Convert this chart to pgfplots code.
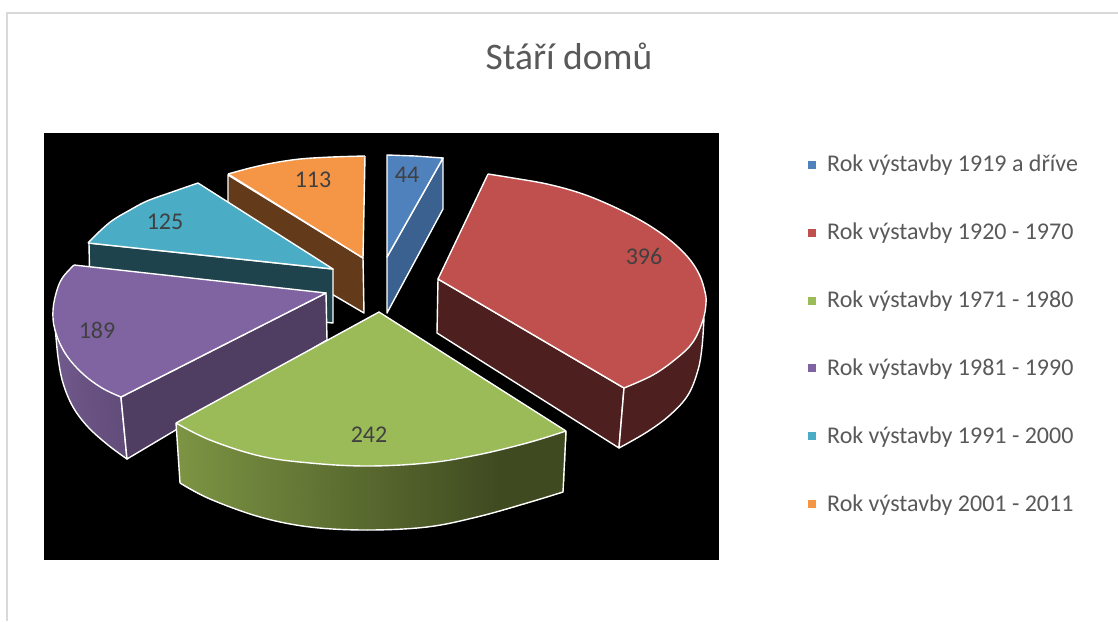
\documentclass[border=0pt]{standalone}
\usepackage{pgfplots}
\pgfplotsset{compat=1.18}
\usepackage{fontspec}
\setmainfont{Carlito}
\definecolor{cblue}{RGB}{79,129,189}
\definecolor{cblued}{RGB}{58,97,144}
\definecolor{cred}{RGB}{192,80,77}
\definecolor{credd}{RGB}{77,31,30}
\definecolor{cgreen}{RGB}{155,187,89}
\definecolor{cpurple}{RGB}{128,100,162}
\definecolor{cpurpled}{RGB}{79,61,98}
\definecolor{cteal}{RGB}{75,172,198}
\definecolor{cteald}{RGB}{30,67,77}
\definecolor{corange}{RGB}{245,150,70}
\definecolor{corangedd}{RGB}{99,58,26}
\definecolor{txt}{RGB}{64,64,64}
\definecolor{ltxt}{RGB}{89,89,89}
\pgfplotsset{
  colormap={gside}{rgb255=(124,148,67) rgb255=(63,74,32)},
  colormap={pside}{rgb255=(113,90,140) rgb255=(98,76,122)},
  wedge/.style={draw=white,line width=1.4pt,line join=round,forget plot,mark=none},
  body/.style={draw=none,forget plot,mark=none},
  edge/.style={draw=white,line width=1.4pt,line join=round,forget plot,mark=none,fill=none},
  arc/.style={edge,smooth,tension=0.6},
}
\begin{document}
\begin{tikzpicture}
\path[use as bounding box] (0,0) rectangle (1118pt,621pt);
\begin{axis}[
  at={(0,0)},anchor=south west,
  width=1118pt,height=621pt,scale only axis,
  xmin=0,xmax=1118,ymin=0,ymax=621,y dir=reverse,
  hide axis,
  point meta min=0,point meta max=1,
  legend style={draw=none,fill=none,at={(805/1118,1-151/621)},anchor=north west,
    font=\fontsize{24}{28}\selectfont,text=ltxt,row sep=45.8pt,
    /tikz/every odd column/.style={column sep=10pt}},
  legend cell align=left,
]
% frame
\addplot[draw=black!15,line width=2pt,forget plot,mark=none] coordinates {(7,621) (7,13) (1118,13)};
% plot background
\addplot[fill=black,draw=none,forget plot,mark=none] coordinates {(44,133) (719,133) (719,560) (44,560)} --cycle;

% orange
\addplot[wedge,fill=corangedd] coordinates {(228,175) (363,258) (364,313) (228,233)} --cycle;
\addplot[body,fill=corange] coordinates {(228,174) (250,168) (273,163) (300,159) (332,157) (365,156) (363,258)} --cycle;
\addplot[edge] coordinates {(228,174) (363,258) (365,156)};
\addplot[arc] coordinates {(228,174) (250,168) (273,163) (300,159) (332,157) (365,156)};
% teal
\addplot[wedge,fill=cteald] coordinates {(89,243) (333,269) (333,323) (90,298)} --cycle;
\addplot[body,fill=cteal] coordinates {(88,243) (100,231) (113,220) (130,210) (147,201) (172,192) (198,183) (333,269)} --cycle;
\addplot[edge] coordinates {(88,243) (333,269) (198,183)};
\addplot[arc] coordinates {(88,243) (100,231) (113,220) (130,210) (147,201) (172,192) (198,183)};
% purple
\addplot[surf,shader=interp,colormap name=pside,forget plot,point meta=explicit,mesh/rows=2]
 table[meta=c] {
x y c
55 330 0
58 340 0.05
65 353 0.1
73 364 0.3
82 373 0.5
102 388 0.75
121 397 1

55 330 0
58 357 0.05
63 383 0.1
73 407 0.3
88 427 0.5
108 445 0.75
127 459 1
};
\addplot[arc] coordinates {(55,325) (58,357) (63,383) (73,407) (88,427) (108,445) (127,459)};
\addplot[edge] coordinates {(127,459) (121,397)};
\addplot[wedge,fill=cpurpled] coordinates {(326,293) (327,340) (127,459) (121,397)} --cycle;
\addplot[body,fill=cpurple] coordinates {(74,265) (63,277) (57,290) (53,310) (55,330) (65,353) (82,373) (102,388) (121,397) (326,293)} --cycle;
\addplot[edge] coordinates {(121,397) (326,293) (74,265)};
\addplot[arc] coordinates {(74,265) (63,277) (57,290) (53,310) (55,330) (65,353) (82,373) (102,388) (121,397)};
% green
\addplot[surf,shader=interp,colormap name=gside,forget plot,point meta=explicit,mesh/rows=2]
 table[meta=c] {
x y c
176 423 0
193 432 0.05
210 440 0.10
235 449 0.18
260 456 0.26
285 460 0.33
310 463 0.41
338 465 0.50
367 466 0.59
397 465 0.68
427 463 0.77
452 459 0.85
477 455 0.93
500 450 1
527 443 1
566 431 1

180 483 0
195 492 0.05
210 499 0.10
235 509 0.18
260 517 0.26
285 523 0.33
310 527 0.41
338 529 0.50
367 530 0.59
397 529 0.68
427 527 0.77
452 522 0.85
477 517 0.93
500 511 1
527 503 1
563 492 1
};
\addplot[edge] coordinates {(176,423) (180,483)};
\addplot[edge] coordinates {(563,492) (566,431)};
\addplot[arc] coordinates {(180,483) (210,499) (260,517) (310,527) (367,530) (427,527) (477,517) (527,503) (563,492)};
\addplot[body,fill=cgreen] coordinates {(379,312) (176,423) (193,432) (210,440) (235,449) (260,456) (285,460) (310,463) (338,465) (367,466) (397,465) (427,463) (452,459) (477,455) (500,450) (527,443) (566,431)} --cycle;
\addplot[edge] coordinates {(176,423) (379,312) (566,431)};
\addplot[arc] coordinates {(176,423) (210,440) (260,456) (310,463) (367,466) (427,463) (477,455) (527,443) (566,431)};
% blue
\addplot[wedge,fill=cblued] coordinates {(443,158) (443,209) (387,313) (387,257)} --cycle;
\addplot[wedge,fill=cblue] coordinates {(387,155) (415,156) (443,158) (387,257)} --cycle;
% red
\addplot[wedge,fill=credd] coordinates {(438,279) (624,388) (619,448) (437,333)} --cycle;
\addplot[body,fill=credd] coordinates {(706,303) (703,320) (693,342) (677,358) (653,375) (624,388) (619,448) (647,432) (670,415) (688,395) (698,370) (702,347) (704,318)} --cycle;
\addplot[edge] coordinates {(624,388) (619,448)};
\addplot[arc] coordinates {(704,318) (702,347) (698,370) (688,395) (670,415) (647,432) (619,448)};
\addplot[body,fill=cred] coordinates {(438,279) (488,174) (513,178) (547,184) (580,193) (610,205) (640,220) (662,234) (678,247) (691,261) (700,276) (705,292) (706,303) (703,320) (693,342) (677,358) (653,375) (624,388)} --cycle;
\addplot[edge] coordinates {(624,388) (438,279) (488,174)};
\addplot[arc] coordinates {(488,174) (513,178) (547,184) (580,193) (610,205) (640,220) (662,234) (678,247) (691,261) (700,276) (705,292) (706,303) (703,320) (693,342) (677,358) (653,375) (624,388)};

% value labels
\addplot[only marks,mark=none,forget plot,point meta=explicit symbolic,
  nodes near coords,
  every node near coord/.style={anchor=center,inner sep=0pt,text=txt,font=\fontsize{24}{24}\selectfont}]
 table[meta=l] {
x y l
407 175 44
644 256 396
369 435 242
97 330 189
165 222 125
313 180 113
};
% title
\node[anchor=center,text=ltxt,font=\fontsize{37.5}{37.5}\selectfont] at (axis cs:569,56.5) {Stáří domů};
% legend
\addlegendimage{only marks,mark=square*,mark size=3.5pt,cblue,mark options={draw=cblue,fill=cblue}}
\addlegendentry{Rok výstavby 1919 a dříve}
\addlegendimage{only marks,mark=square*,mark size=3.5pt,cred,mark options={draw=cred,fill=cred}}
\addlegendentry{Rok výstavby 1920 - 1970}
\addlegendimage{only marks,mark=square*,mark size=3.5pt,cgreen,mark options={draw=cgreen,fill=cgreen}}
\addlegendentry{Rok výstavby 1971 - 1980}
\addlegendimage{only marks,mark=square*,mark size=3.5pt,cpurple,mark options={draw=cpurple,fill=cpurple}}
\addlegendentry{Rok výstavby 1981 - 1990}
\addlegendimage{only marks,mark=square*,mark size=3.5pt,cteal,mark options={draw=cteal,fill=cteal}}
\addlegendentry{Rok výstavby 1991 - 2000}
\addlegendimage{only marks,mark=square*,mark size=3.5pt,corange,mark options={draw=corange,fill=corange}}
\addlegendentry{Rok výstavby 2001 - 2011}
\end{axis}
\end{tikzpicture}
\end{document}
